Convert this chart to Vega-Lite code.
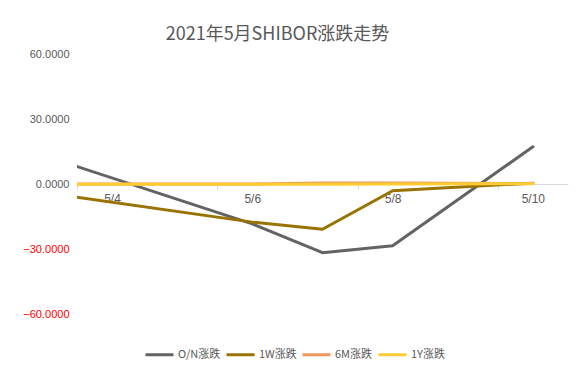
{
  "$schema": "https://vega.github.io/schema/vega-lite/v6.json",
  "width": 491,
  "height": 260,
  "autosize": {"type": "none"},
  "padding": {"left": 77, "top": 54, "right": 18, "bottom": 58},
  "background": "white",
  "title": {
    "text": "2021年5月SHIBOR涨跌走势",
    "font": "Noto Sans CJK SC",
    "fontSize": 18,
    "fontWeight": "normal",
    "color": "#595959",
    "anchor": "middle",
    "dx": -45,
    "offset": 4
  },
  "data": {
    "values": [
      {"date": "2021-04-30", "series": "O/N涨跌", "value": 45.1},
      {"date": "2021-05-06", "series": "O/N涨跌", "value": -18.4},
      {"date": "2021-05-07", "series": "O/N涨跌", "value": -31.7},
      {"date": "2021-05-08", "series": "O/N涨跌", "value": -28.5},
      {"date": "2021-05-10", "series": "O/N涨跌", "value": 17.2},
      {"date": "2021-04-30", "series": "1W涨跌", "value": 10.0},
      {"date": "2021-05-06", "series": "1W涨跌", "value": -17.6},
      {"date": "2021-05-07", "series": "1W涨跌", "value": -20.9},
      {"date": "2021-05-08", "series": "1W涨跌", "value": -3.1},
      {"date": "2021-05-10", "series": "1W涨跌", "value": 0.4},
      {"date": "2021-04-30", "series": "6M涨跌", "value": 0.1},
      {"date": "2021-05-06", "series": "6M涨跌", "value": 0.0},
      {"date": "2021-05-07", "series": "6M涨跌", "value": 0.5},
      {"date": "2021-05-08", "series": "6M涨跌", "value": 0.5},
      {"date": "2021-05-10", "series": "6M涨跌", "value": 0.2},
      {"date": "2021-04-30", "series": "1Y涨跌", "value": 0.0},
      {"date": "2021-05-06", "series": "1Y涨跌", "value": -0.1},
      {"date": "2021-05-07", "series": "1Y涨跌", "value": -0.1},
      {"date": "2021-05-08", "series": "1Y涨跌", "value": 0.0},
      {"date": "2021-05-10", "series": "1Y涨跌", "value": 0.1}
    ]
  },
  "encoding": {
    "x": {
      "field": "date",
      "type": "temporal",
      "scale": {
        "type": "utc",
        "nice": false,
        "domain": [
          {"year": 2021, "month": 5, "date": 3, "hours": 12, "utc": true},
          {"year": 2021, "month": 5, "date": 10, "hours": 12, "utc": true}
        ]
      },
      "axis": {
        "orient": "bottom",
        "offset": -130,
        "title": null,
        "grid": false,
        "values": [
          {"year": 2021, "month": 5, "date": 3, "hours": 12, "utc": true},
          {"year": 2021, "month": 5, "date": 5, "hours": 12, "utc": true},
          {"year": 2021, "month": 5, "date": 7, "hours": 12, "utc": true},
          {"year": 2021, "month": 5, "date": 9, "hours": 12, "utc": true}
        ],
        "labelExpr": "utcFormat(time(datum.value) + 43200000, '%-m/%-d')",
        "labelOffset": 35,
        "labelPadding": 4,
        "labelFont": "Liberation Sans",
        "labelFontSize": 12,
        "labelColor": "#595959",
        "labelOverlap": false,
        "labelBound": false,
        "labelFlush": false,
        "domainColor": "#D9D9D9",
        "domainWidth": 1,
        "tickColor": "#D9D9D9",
        "tickSize": 5
      }
    },
    "y": {
      "field": "value",
      "type": "quantitative",
      "scale": {"domain": [-60, 60], "nice": false, "zero": false},
      "axis": {
        "title": null,
        "grid": false,
        "domain": false,
        "ticks": false,
        "values": [-60, -30, 0, 30, 60],
        "format": ".4f",
        "labelPadding": 8,
        "labelFont": "Liberation Sans",
        "labelFontSize": 11,
        "labelColor": {"expr": "datum.value < 0 ? '#FF0000' : '#595959'"}
      }
    },
    "color": {
      "field": "series",
      "type": "nominal",
      "scale": {
        "domain": ["O/N涨跌", "1W涨跌", "6M涨跌", "1Y涨跌"],
        "range": ["#636363", "#997300", "#F1975A", "#FFCD33"]
      },
      "legend": {
        "title": null,
        "orient": "none",
        "direction": "horizontal",
        "legendX": 67,
        "legendY": 285,
        "symbolType": "stroke",
        "symbolStrokeWidth": 3,
        "symbolSize": 784,
        "labelFont": "Noto Sans CJK SC",
        "labelFontSize": 11,
        "labelColor": "#595959",
        "labelOffset": 3,
        "columnPadding": -1
      }
    }
  },
  "layer": [
    {
      "transform": [{"filter": "datum.series === 'O/N涨跌'"}],
      "mark": {"type": "line", "strokeWidth": 3, "strokeCap": "round", "strokeJoin": "round", "clip": true}
    },
    {
      "transform": [{"filter": "datum.series === '1W涨跌'"}],
      "mark": {"type": "line", "strokeWidth": 3, "strokeCap": "round", "strokeJoin": "round", "clip": true}
    },
    {
      "transform": [{"filter": "datum.series === '6M涨跌'"}],
      "mark": {"type": "line", "strokeWidth": 3, "strokeCap": "round", "strokeJoin": "round", "clip": true}
    },
    {
      "transform": [{"filter": "datum.series === '1Y涨跌'"}],
      "mark": {"type": "line", "strokeWidth": 3, "strokeCap": "round", "strokeJoin": "round", "clip": true}
    }
  ],
  "config": {"view": {"stroke": null}}
}
